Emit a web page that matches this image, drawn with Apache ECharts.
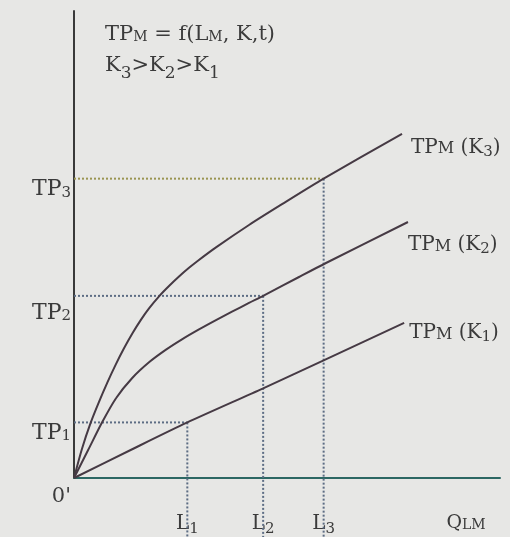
<!DOCTYPE html>
<html>
<head>
<meta charset="utf-8">
<script src="https://cdn.jsdelivr.net/npm/echarts@6/dist/echarts.min.js"></script>
<style>
html, body { margin: 0; padding: 0; background: #e7e7e5; }
#chart { width: 510px; height: 537px; }
</style>
</head>
<body>
<div id="chart"></div>
<script>
// labour levels L1..L3 on the Q_LM axis and the matching outputs TP1..TP3
var laborLevels = [26.6, 44.4, 58.6];
var outputLevels = [11.9, 39.0, 64.1];

// total product curves, one per capital stock (K3 > K2 > K1)
var curveK1 = [[0, 0], [13.3, 6.0], [26.6, 11.9], [44.4, 19.2], [58.6, 25.2], [77.5, 33.2]];
var curveK2 = [[0, 0], [3.29, 5.93], [6.57, 11.88], [9.86, 17.09], [13.62, 21.37], [17.61, 24.78],
    [21.6, 27.49], [25.35, 29.7], [29.34, 31.82], [33.33, 33.81], [37.09, 35.61], [41.08, 37.49],
    [44.4, 39.0], [52.82, 43.04], [59.15, 46.04], [78.4, 54.82]];
var curveK3 = [[0, 0], [1.88, 6.27], [3.92, 11.84], [5.87, 16.3], [7.82, 20.43], [9.79, 24.28],
    [11.74, 27.77], [13.69, 30.94], [15.66, 33.81], [17.61, 36.32], [20.07, 39.01], [22.3, 41.11],
    [24.65, 43.15], [27.0, 45.01], [28.94, 46.42], [33.33, 49.38], [41.08, 54.18], [48.83, 58.63],
    [58.6, 64.1], [77.0, 73.7]];

// dotted guides run down past the axis to the bottom of the figure
var guideFloor = -13;

var serif = 'DejaVu Serif';
var ink = '#3b3b3b';
var curveColor = '#463a44';
var guideBlue = '#5d6d84';
var guideOlive = '#9a9552';

function tok(size, pad) {
    return { fontFamily: serif, fontSize: size, fontWeight: 'normal', color: ink, padding: [pad || 0, 0, 0, 0] };
}

var chart = echarts.init(document.getElementById('chart'));

function guide(data, color) {
    return {
        type: 'line',
        data: data,
        showSymbol: false,
        symbol: 'none',
        silent: true,
        clip: false,
        lineStyle: { color: color, width: 2, type: [2, 2] },
        z: 1
    };
}

function curve(name, data, label, offset) {
    return {
        name: name,
        type: 'line',
        data: data,
        smooth: 0.25,
        showSymbol: false,
        symbol: 'none',
        silent: true,
        lineStyle: { color: curveColor, width: 2 },
        endLabel: {
            show: true,
            distance: 0,
            offset: offset,
            formatter: function () { return label; },
            rich: { t: tok(20), m: tok(16, 3), s: tok(15, 8) }
        },
        z: 3
    };
}

var series = [];
laborLevels.forEach(function (l, i) {
    var tp = outputLevels[i];
    series.push(guide([[0, tp], [l, tp]], i === 2 ? guideOlive : guideBlue));
    series.push(guide([[l, tp], [l, guideFloor]], guideBlue));
});
series.push(curve('K3', curveK3, '{t|TP}{m|M}{t| (K}{s|3}{t|)}', [9, 14]));
series.push(curve('K2', curveK2, '{t|TP}{m|M}{t| (K}{s|2}{t|)}', [0, 23]));
series.push(curve('K1', curveK1, '{t|TP}{m|M}{t| (K}{s|1}{t|)}', [5, 10]));

var option = {
    backgroundColor: '#e7e7e5',
    animation: false,
    title: {
        left: 105,
        top: 21,
        padding: 0,
        text: '{t|TP}{m|M}{t| = f(L}{m|M}{t|, K,t)}\n{t|K}{s|3}{t|>K}{s|2}{t|>K}{s|1}',
        textStyle: {
            fontWeight: 'normal',
            rich: {
                t: { fontFamily: serif, fontSize: 21, fontWeight: 'normal', color: ink, lineHeight: 28 },
                m: tok(14, 4),
                s: tok(17, 16)
            }
        }
    },
    grid: { left: 74, right: 10, top: 11, bottom: 59 },
    xAxis: {
        type: 'value',
        min: 0,
        max: 100,
        axisLine: { lineStyle: { color: '#2c6763', width: 2 } },
        axisTick: { show: false },
        splitLine: { show: false },
        axisLabel: {
            customValues: laborLevels,
            margin: 33,
            formatter: function (v) {
                return '{t|L}{s|' + (laborLevels.indexOf(v) + 1) + '}';
            },
            rich: { t: tok(20), s: tok(15, 11) }
        },
        name: '{q|Q}{m|LM}',
        nameLocation: 'end',
        nameGap: -34,
        nameTextStyle: {
            align: 'center',
            verticalAlign: 'middle',
            padding: [90, 0, 0, 0],
            rich: { q: tok(19), m: tok(14, 4) }
        }
    },
    yAxis: {
        type: 'value',
        min: 0,
        max: 100,
        axisLine: { lineStyle: { color: '#3a3a3a', width: 2 } },
        axisTick: { show: false },
        splitLine: { show: false },
        axisLabel: {
            customValues: [0].concat(outputLevels),
            margin: 3,
            verticalAlign: 'top',
            formatter: function (v) {
                if (v === 0) return '{o|0\'}';
                var i = outputLevels.indexOf(v);
                return i === 1 ? '{u|TP}{w|2}' : '{t|TP}{s|' + (i + 1) + '}';
            },
            rich: { t: tok(22), s: tok(15, 6), u: tok(22, 6), w: tok(15, 12), o: tok(21, 8) }
        }
    },
    series: series
};

chart.setOption(option);
</script>
</body>
</html>
